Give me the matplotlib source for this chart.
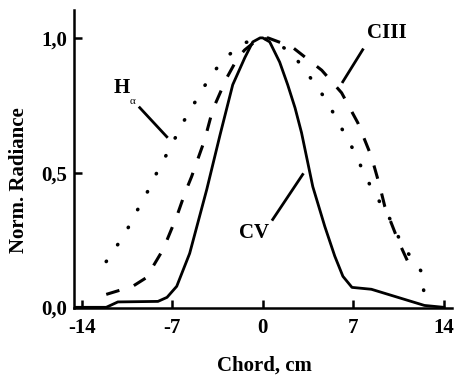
from matplotlib import pyplot as plt
import numpy as np

plt.rcParams['font.family'] = ['Liberation Serif', 'DejaVu Serif']
plt.rcParams['font.weight'] = 'bold'

# CV (solid)
cv_x = [-14.6, -12.1, -11.2, -8.1, -7.4, -6.65, -5.65, -4.33, -3.3, -2.32, -1.39, -0.77,
        -0.2, 0.0, 0.54, 1.31, 1.93, 2.5, 3.0, 3.87, 4.8, 5.57, 6.2, 6.9, 8.4, 12.5, 14.0]
cv_y = [0.0, 0.0, 0.02, 0.022, 0.037, 0.078, 0.2, 0.437, 0.64, 0.826, 0.926, 0.985,
        1.0, 1.0, 0.985, 0.91, 0.826, 0.74, 0.648, 0.448, 0.3, 0.19, 0.115, 0.074, 0.067,
        0.007, 0.0]

# CIII (dashed)
c3_x = [-12.1, -10.05, -9.0, -7.7, -6.65, -6.0, -5.5, -4.5, -3.87, -2.8, -1.93, -1.4,
        -0.5, 0.4, 2.25, 4.56, 6.1, 7.35, 8.4, 9.05, 9.44, 10.45, 11.5]
c3_y = [0.048, 0.078, 0.11, 0.215, 0.337, 0.426, 0.485, 0.62, 0.733, 0.85, 0.926, 0.955,
        0.99, 1.0, 0.967, 0.88, 0.796, 0.685, 0.56, 0.45, 0.374, 0.25, 0.14]

# H-alpha (dotted)
ha_x = [-12.1, -11.3, -10.4, -9.7, -9.0, -8.35, -7.65, -6.96, -6.26, -5.5, -4.72, -3.87,
        -2.78, -1.55, 0.0, 0.93, 2.25, 3.25, 4.18, 5.03, 5.8, 6.5, 7.2, 7.8, 8.4,
        9.3, 10.0, 10.4, 11.0, 11.75, 12.3, 12.45]
ha_y = [0.17, 0.226, 0.296, 0.36, 0.42, 0.485, 0.548, 0.61, 0.678, 0.74, 0.804, 0.87,
        0.93, 0.98, 1.0, 0.985, 0.944, 0.88, 0.82, 0.76, 0.69, 0.63, 0.567, 0.5, 0.444,
        0.37, 0.315, 0.27, 0.215, 0.17, 0.13, 0.06]

xticks = [-14, -7, 0, 7, 14]
yticks = [0.0, 0.5, 1.0]
ytick_labels = ['0,0', '0,5', '1,0']

fig = plt.figure(figsize=(4.55, 3.79), dpi=100)
ax = fig.add_axes([0.163, 0.187, 0.83, 0.787])

ax.plot(cv_x, cv_y, color='black', lw=2.0, solid_joinstyle='round')
ax.plot(c3_x, c3_y, color='black', lw=2.2, linestyle=(0, (4.5, 5.0)))
ax.plot(ha_x, ha_y, color='black', lw=2.6, linestyle=(0, (0.1, 5.5)),
        dash_capstyle='round')

ax.set_xlim(-14.58, 14.62)
ax.set_ylim(-0.003, 1.104)
ax.set_xticks(xticks)
ax.set_xticklabels([str(t) for t in xticks])
ax.set_yticks(yticks)
ax.set_yticklabels(ytick_labels)

for s in ['top', 'right']:
    ax.spines[s].set_visible(False)
for s in ['left', 'bottom']:
    ax.spines[s].set_linewidth(1.8)
ax.tick_params(direction='in', length=6, width=1.8, labelsize=15)
ax.tick_params(axis='x', pad=7)
ax.tick_params(axis='y', pad=5)

ax.set_xlabel('Chord, cm', fontsize=15, fontweight='bold')
ax.set_ylabel('Norm. Radiance', fontsize=15, fontweight='bold')
ax.xaxis.set_label_coords(0.503, -0.16)
ax.yaxis.set_label_coords(-0.12, 0.43)

# annotations
ax.text(-10.9, 0.815, 'H', fontsize=15, fontweight='bold', ha='center', va='center')
ax.text(-10.05, 0.763, 'α', fontsize=8, fontweight='normal', ha='center', va='center')
ax.plot([-9.51, -7.42], [0.741, 0.633], color='black', lw=2.0)

ax.text(9.59, 1.019, 'CIII', fontsize=15, fontweight='bold', ha='center', va='center')
ax.plot([7.73, 6.19], [0.956, 0.837], color='black', lw=2.0)

ax.text(-0.70, 0.274, 'CV', fontsize=15, fontweight='bold', ha='center', va='center')
ax.plot([0.77, 3.09], [0.326, 0.493], color='black', lw=2.0)

fig.savefig('out.png', dpi=100)
